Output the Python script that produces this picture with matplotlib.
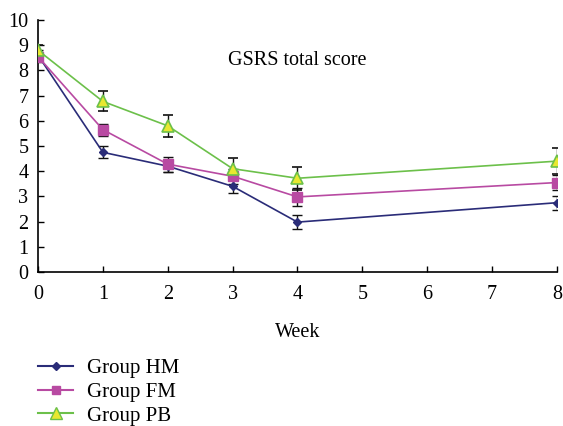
import matplotlib
matplotlib.use("Agg")
import matplotlib.pyplot as plt
from matplotlib.lines import Line2D

weeks = [0, 1, 2, 3, 4, 8]
hm = [8.6, 4.75, 4.2, 3.4, 1.98, 2.75]
fm = [8.55, 5.65, 4.28, 3.8, 2.98, 3.55]
pb = [8.8, 6.77, 5.8, 4.1, 3.72, 4.4]
hm_err = [0.2, 0.24, 0.22, 0.25, 0.28, 0.28]
fm_err = [0.2, 0.24, 0.3, 0.3, 0.35, 0.3]
pb_err = [0.22, 0.4, 0.43, 0.42, 0.45, 0.52]
xticks = [0, 1, 2, 3, 4, 5, 6, 7, 8]
yticks = [0, 1, 2, 3, 4, 5, 6, 7, 8, 9, 10]

plt.rcParams['font.family'] = ['Liberation Serif', 'DejaVu Serif']

fig = plt.figure(figsize=(5.63, 4.26), dpi=100)
ax = fig.add_axes([0.0675, 0.3615, 0.9218, 0.5915])

c_hm = '#2a2c78'
c_fm = '#b84aa2'
c_pb = '#6cc04a'
c_pbf = '#e8e830'

ekw = dict(ecolor='#111111', elinewidth=1.0, capsize=3.5, capthick=1.0)
ax.errorbar(weeks, hm, yerr=hm_err, color=c_hm, lw=1.2, marker='D', ms=4.5,
            mfc=c_hm, mec=c_hm, zorder=3, **ekw)
ax.errorbar(weeks, fm, yerr=fm_err, color=c_fm, lw=1.2, marker='s', ms=6.5,
            mfc=c_fm, mec=c_fm, zorder=3, **ekw)
ax.errorbar(weeks, pb, yerr=pb_err, color=c_pb, lw=1.2, marker='^', ms=9,
            mfc=c_pbf, mec=c_pb, mew=1.2, zorder=3, **ekw)

ax.set_xlim(0, 8)
ax.set_ylim(0, 10)
ax.set_xticks(xticks)
ax.set_yticks(yticks)
ax.tick_params(direction='in', length=4, width=1, labelsize=14.5, colors='black')
ax.tick_params(axis='x', pad=9)
ax.tick_params(axis='y', pad=7)
ax.spines['top'].set_visible(False)
ax.spines['right'].set_visible(False)
for s in ['left', 'bottom']:
    ax.spines[s].set_linewidth(1.2)

ax.set_xlabel('Week', fontsize=14.5, labelpad=14)
ax.text(4, 8.4, 'GSRS total score', ha='center', va='center', fontsize=14.5)

handles = [
    Line2D([], [], color=c_hm, lw=1.5, marker='D', ms=4, mfc=c_hm, mec=c_hm),
    Line2D([], [], color=c_fm, lw=1.5, marker='s', ms=6, mfc=c_fm, mec=c_fm),
    Line2D([], [], color=c_pb, lw=1.5, marker='^', ms=8, mfc=c_pbf, mec=c_pb),
]
fig.legend(handles, ['Group HM', 'Group FM', 'Group PB'], loc='upper left',
           bbox_to_anchor=(0.0528, 0.178), frameon=False, fontsize=15,
           handlelength=1.7, handletextpad=0.67, labelspacing=0.2, borderaxespad=0)

fig.savefig('out.png', dpi=100)
